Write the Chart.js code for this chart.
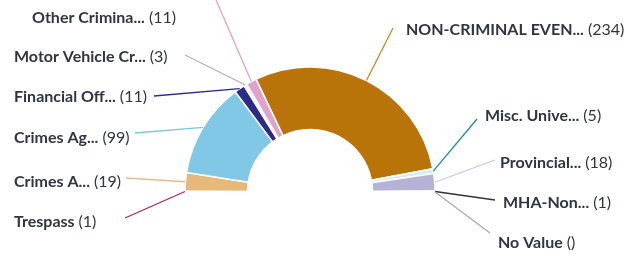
<!DOCTYPE html>
<html>
<head>
<meta charset="utf-8">
<script src="https://cdn.jsdelivr.net/npm/chart.js@4"></script>
<style>
  html, body { margin: 0; padding: 0; background: #fff; }
  canvas { display: block; }
</style>
</head>
<body>
<canvas id="gauge" width="633" height="254"></canvas>
<script>
// half doughnut, labels outside with leader lines
const labels = ["Trespass", "Crimes A...", "Crimes Ag...", "Financial Off...", "Motor Vehicle Cr...",
  "Other Crimina...", "NON-CRIMINAL EVEN...", "Misc. Unive...", "Provincial...", "MHA-Non...", "No Value"];
const counts = [1, 19, 99, 11, 3, 11, 234, 5, 18, 1, 0];
const countText = ["1", "19", "99", "11", "3", "11", "234", "5", "18", "1", ""];
const sliceColors = ["#9b2a6a", "#e6b87a", "#80c8e6", "#2e2a8a", "#eeeef6", "#e0a2cc",
  "#b87408", "#d4eef0", "#b6b2d6", "#444", "#aaa"];
const lineColors = ["#9b2a6a", "#e2bc90", "#7cc6dc", "#2e2a8a", "#b4b4b4", "#e0a2cc",
  "#c08a20", "#1a8a9a", "#c8c8e0", "#333", "#aaa"];

// where each label sits: text left x, text middle y, leader end x, y
const labelBoxes = [
  [14, 222, 125, 218],
  [14, 182, 126, 178],
  [14, 138, 135, 133],
  [14, 97, 154, 96],
  [14, 57, 185, 55],
  [32, 18, 216, 0],
  [406, 30, 393, 28],
  [485, 116, 477, 119],
  [500, 163, 495, 160],
  [503, 203, 495, 200],
  [498, 243, 490, 233]
];

const outsideLabels = {
  id: "outsideLabels",
  afterDatasetsDraw(chart) {
    const ctx = chart.ctx;
    const arcs = chart.getDatasetMeta(0).data;
    ctx.save();
    arcs.forEach((arc, i) => {
      const mid = (arc.startAngle + arc.endAngle) / 2;
      const sx = arc.x + Math.cos(mid) * arc.outerRadius;
      const sy = arc.y + Math.sin(mid) * arc.outerRadius;
      const [tx, ty, lx, ly] = labelBoxes[i];
      ctx.strokeStyle = lineColors[i];
      ctx.lineWidth = 1.3;
      ctx.beginPath();
      ctx.moveTo(sx, sy);
      ctx.lineTo(lx, ly);
      ctx.stroke();

      ctx.textBaseline = "middle";
      ctx.textAlign = "left";
      ctx.fillStyle = "#2f3542";
      ctx.font = "bold 16px Lato";
      ctx.fillText(labels[i], tx, ty);
      const w = ctx.measureText(labels[i]).width;
      ctx.font = "16px Lato";
      ctx.fillText("(" + countText[i] + ")", tx + w + 4, ty);
    });
    ctx.restore();
  }
};

new Chart(document.getElementById("gauge"), {
  type: "doughnut",
  data: {
    labels: labels,
    datasets: [{
      data: counts,
      backgroundColor: sliceColors,
      borderColor: "#fff",
      borderWidth: 1.5
    }]
  },
  options: {
    responsive: false,
    animation: false,
    rotation: -90,
    circumference: 180,
    radius: 125,
    cutout: "50%",
    layout: { padding: { left: 185, right: 198, top: 67, bottom: 62 } },
    plugins: {
      legend: { display: false },
      tooltip: { enabled: false }
    }
  },
  plugins: [outsideLabels]
});
</script>
</body>
</html>
